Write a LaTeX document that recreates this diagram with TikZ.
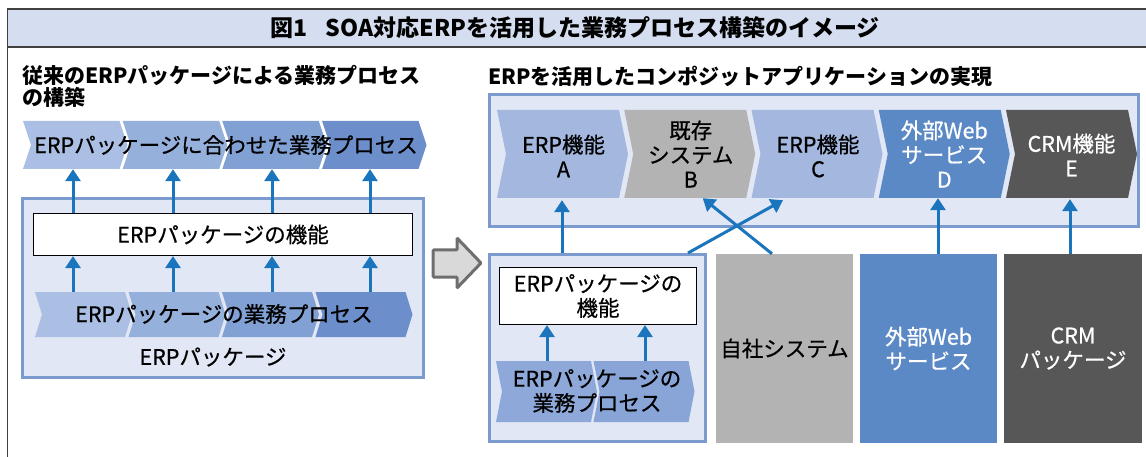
\documentclass[tikz,border=0pt]{standalone}
\usepackage{fontspec}
\setmainfont{Noto Sans CJK JP}
\newfontfamily\medfont{Noto Sans CJK JP}[FakeBold=0.6]
\usetikzlibrary{arrows.meta,calc}
\definecolor{hdr}{HTML}{D5DEF0}
\definecolor{frm}{HTML}{404040}
\definecolor{bfill}{HTML}{E1E7F5}
\definecolor{bline}{HTML}{7B9BCF}
\definecolor{abl}{HTML}{1A75BC}
\definecolor{cha}{HTML}{AABFE3}
\definecolor{chb}{HTML}{96B0DC}
\definecolor{chc}{HTML}{81A0D4}
\definecolor{chd}{HTML}{6C8FCB}
\definecolor{erpc}{HTML}{A3B7DF}
\definecolor{grb}{HTML}{B3B3B3}
\definecolor{bld}{HTML}{5B89C6}
\definecolor{dke}{HTML}{575757}
\definecolor{ina}{HTML}{8EA9D9}
\definecolor{inb}{HTML}{89A5D7}
\definecolor{bgarr}{HTML}{D9D9D9}
\definecolor{bgarrl}{HTML}{6E6E6E}
% chevron: L, T, B, W, d, colour
\newcommand\chevshape[6]{%
  \fill[#6] (#1,#2) -- ({#1+#4},#2) -- ({#1+#4+#5},{(#2+#3)/2}) -- ({#1+#4},#3)
    -- (#1,#3) -- ({#1+#5},{(#2+#3)/2}) -- cycle;}
\begin{document}
\begin{tikzpicture}[x=1pt,y=-1pt,
  font=\medfont\fontsize{21.5}{24.5}\selectfont,
  arr/.style={draw=abl, line width=3pt, -{Triangle[length=12pt,width=15pt]}},
  framebox/.style={draw=bline, line width=3pt, fill=bfill, inner sep=0pt},
  anchorbox/.style={inner sep=0pt, minimum width=#1},
  lbl/.style={align=center, inner sep=0pt, text=black},
  wlbl/.style={align=center, inner sep=0pt, text=white},
  ttl/.style={font=\bfseries\fontsize{21}{22}\selectfont, inner sep=0pt},
]
\clip (0,0) rectangle (1146,457);
% outer frame and header
\fill[hdr] (7.5,9) rectangle (1160,47);
\draw[frm, line width=1.5pt] (7.5,480) -- (7.5,9) -- (1160,9);
\draw[frm, line width=1.5pt] (7.5,47) -- (1160,47);
\node[ttl, font=\bfseries\fontsize{23}{24}\selectfont] (title) at (575,28) {図1\hspace{0.8em}SOA対応ERPを活用した業務プロセス構築のイメージ};
\node[ttl, anchor=west, align=left] (subL) at (22,86.5) {従来のERPパッケージによる業務プロセス\\の構築};
\node[ttl, anchor=west] (subR) at (488,76) {ERPを活用したコンポジットアプリケーションの実現};

% ---------- left part ----------
\chevshape{23}{121}{169}{96.5}{8}{cha}
\chevshape{122.7}{121}{169}{96.5}{8}{chb}
\chevshape{222.3}{121}{169}{96.5}{8}{chc}
\chevshape{322}{121}{169}{96.5}{8}{chd}
\node[anchorbox=96, minimum height=48] (tp1) at (73,145) {};
\node[anchorbox=96, minimum height=48] (tp2) at (173,145) {};
\node[anchorbox=96, minimum height=48] (tp3) at (272,145) {};
\node[anchorbox=96, minimum height=48] (tp4) at (370,145) {};
\node[lbl] (tptext) at (226,145) {ERPパッケージに合わせた業務プロセス};

\node[framebox, minimum width=401, minimum height=179] (lbox) at (223,288) {};
\node[draw=black, line width=1.2pt, fill=white, minimum width=379, minimum height=42, inner sep=0pt] (wbox) at (223,234.5) {ERPパッケージの機能};

\chevshape{35}{292}{337}{90}{7}{cha}
\chevshape{128.5}{292}{337}{90}{7}{chb}
\chevshape{222}{292}{337}{90}{7}{chc}
\chevshape{315.5}{292}{337}{90}{7}{chd}
\node[anchorbox=375, minimum height=45] (bp) at (224,314.5) {};
\node[lbl] (bptext) at (224,314) {ERPパッケージの業務プロセス};
\node[lbl] (pkglbl) at (213,357) {ERPパッケージ};

\foreach \i in {1,...,4} {
  \draw[arr] (tp\i |- wbox.north) -- (tp\i.south);
  \draw[arr] (tp\i |- bp.north) -- (tp\i |- wbox.south);
}

% big grey arrow
\draw[fill=bgarr, draw=bgarrl, line width=3pt, rounded corners=1pt]
  (433,250) -- (457,250) -- (457,238) -- (481,263) -- (457,288) -- (457,277) -- (433,277) -- cycle;

% ---------- right part ----------
\node[framebox, minimum width=649, minimum height=132] (rbox) at (814,160.5) {};
\chevshape{497}{110}{198}{122}{9}{erpc}
\chevshape{624.25}{110}{198}{122}{9}{grb}
\chevshape{751.5}{110}{198}{122}{9}{erpc}
\chevshape{878.75}{110}{198}{122}{9}{bld}
\chevshape{1006}{110}{198}{122}{9}{dke}
\node[lbl, minimum width=122, minimum height=88] (cA) at (563.5,156) {ERP機能\\A};
\node[lbl, minimum width=122, minimum height=88] (cB) at (690.75,154) {既存\\システム\\B};
\node[lbl, minimum width=122, minimum height=88] (cC) at (818,156) {ERP機能\\C};
\node[wlbl, minimum width=122, minimum height=88] (cD) at (944.25,154) {外部Web\\サービス\\D};
\node[wlbl, minimum width=122, minimum height=88] (cE) at (1071.5,155) {CRM機能\\E};

\node[framebox, minimum width=216, minimum height=187] (lb2) at (597.5,348) {};
\node[draw=black, line width=1.2pt, fill=white, minimum width=197, minimum height=57, inner sep=0pt, align=center] (wb2) at (598,296) {ERPパッケージの\\機能};
\chevshape{496}{361}{422}{95}{6}{ina}
\chevshape{593.5}{361}{422}{95}{6}{inb}
\node[anchorbox=195, minimum height=61] (ip) at (597,391.5) {};
\node[lbl] (iptext) at (597,391) {ERPパッケージの\\業務プロセス};
\coordinate (ia) at (547,391.5);
\coordinate (ib) at (645,391.5);
\draw[arr] (ia |- ip.north) -- (ia |- wb2.south);
\draw[arr] (ib |- ip.north) -- (ib |- wb2.south);

\node[fill=grb, minimum width=137, minimum height=189, inner sep=0pt, text=black] (sys) at (784.5,348.5) {自社システム};
\node[fill=bld, minimum width=137, minimum height=189, inner sep=0pt, text=white, align=center] (web) at (928.5,348.5) {外部Web\\サービス};
\node[fill=dke, minimum width=138, minimum height=189, inner sep=0pt, text=white, align=center] (crm) at (1073,348.5) {CRM\\パッケージ};

\coordinate (axA) at (562,230);
\draw[arr] (lb2.north -| axA) -- (axA |- cA.south);
\draw[arr] ([xshift=90.5pt]lb2.north) -- ([xshift=-35pt]cC.south);
\draw[arr] ([xshift=-12.5pt]sys.north) -- ([xshift=12pt]cB.south);
\draw[arr] ([xshift=9.5pt]web.north) -- ([xshift=9.5pt]web.north |- cD.south);
\draw[arr] ([xshift=-3pt]crm.north) -- ([xshift=-3pt]crm.north |- cE.south);
\end{tikzpicture}
\end{document}
